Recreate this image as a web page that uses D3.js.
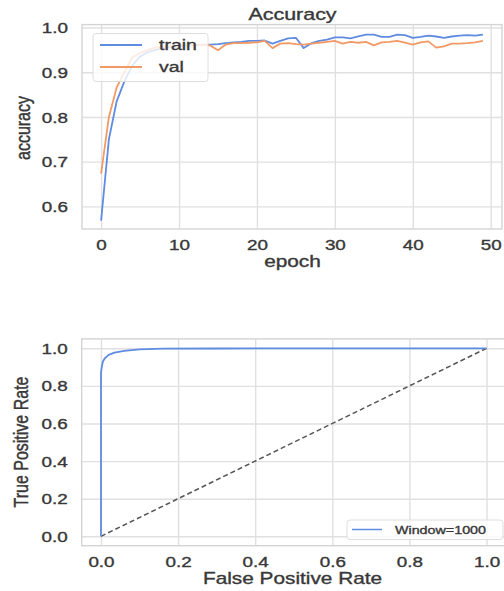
<!DOCTYPE html>
<html>
<head>
<meta charset="utf-8">
<script src="https://cdn.jsdelivr.net/npm/d3@7"></script>
<style>
  html, body { margin: 0; padding: 0; background: #fff; }
  svg { display: block; }
  text { font-family: "Liberation Sans", Arial, sans-serif; fill: #383838; stroke: #383838; stroke-width: 0.35px; }
</style>
</head>
<body>
<svg id="chart" width="504" height="591"></svg>
<script>
// ---------- data ----------
const epochs = d3.range(0, 50);
const trainAcc = [0.568, 0.75, 0.835, 0.88, 0.915, 0.935, 0.945, 0.950, 0.954, 0.956,
                  0.958, 0.960, 0.961, 0.962, 0.962, 0.963, 0.965, 0.967, 0.968, 0.970,
                  0.970, 0.971, 0.964, 0.970, 0.976, 0.977, 0.954, 0.965, 0.970, 0.973,
                  0.978, 0.978, 0.976, 0.980, 0.984, 0.984, 0.979, 0.979, 0.984, 0.983,
                  0.977, 0.979, 0.982, 0.980, 0.977, 0.980, 0.982, 0.983, 0.982, 0.984];
const valAcc = [0.673, 0.80, 0.866, 0.90, 0.933, 0.943, 0.950, 0.955, 0.957, 0.958,
                0.960, 0.960, 0.961, 0.961, 0.960, 0.949, 0.962, 0.965, 0.965, 0.966,
                0.967, 0.970, 0.954, 0.964, 0.965, 0.963, 0.962, 0.964, 0.966, 0.968,
                0.970, 0.964, 0.968, 0.966, 0.968, 0.960, 0.967, 0.968, 0.970, 0.966,
                0.962, 0.967, 0.969, 0.955, 0.958, 0.964, 0.964, 0.965, 0.967, 0.970];
const accYTicks = [0.6, 0.7, 0.8, 0.9, 1.0];
const accXTicks = [0, 10, 20, 30, 40, 50];
const accSeriesNames = ["train", "val"];

const rocFpr = [0, 0, 0.002, 0.005, 0.01, 0.02, 0.035, 0.06, 0.1, 0.16, 0.3, 0.6, 1.0];
const rocTpr = [0, 0.87, 0.90, 0.93, 0.947, 0.965, 0.977, 0.986, 0.994, 0.998, 0.999, 1.0, 1.0];
const rocTicks = [0.0, 0.2, 0.4, 0.6, 0.8, 1.0];
const rocLegend = "Window=1000";

// ---------- style ----------
const SX = 1.3;               // horizontal text stretch seen in the reference
const blue = "#5f8ce0";
const orange = "#f29a66";
const gridColor = "#e0e0e0";
const frameColor = "#d4d4d4";

const svg = d3.select("#chart");

function stretchedText(g, x, y, str, size, anchor, rotate) {
  return g.append("text")
    .attr("transform", `translate(${x},${y}) scale(${SX},1)` + (rotate ? ` rotate(${rotate})` : ""))
    .attr("text-anchor", anchor || "middle")
    .style("font-size", size + "px")
    .text(str);
}

function drawAxes(g, x, y, xTicks, yTicks, fmtX, fmtY) {
  const [x0, x1] = x.range();
  const [y0, y1] = y.range();
  const gx = g.append("g").attr("transform", `translate(0,${y0})`)
    .call(d3.axisBottom(x).tickValues(xTicks).tickSize(-(y0 - y1)).tickFormat(fmtX));
  gx.select(".domain").remove();
  gx.selectAll(".tick line").attr("stroke", gridColor).attr("stroke-width", 1.4);
  gx.selectAll(".tick text")
    .attr("x", 0).attr("y", 0).attr("dy", 0)
    .attr("transform", `translate(0,21) scale(${SX},1)`)
    .attr("fill", null)
    .style("font-size", "14.5px");

  const gy = g.append("g").attr("transform", `translate(${x0},0)`)
    .call(d3.axisLeft(y).tickValues(yTicks).tickSize(-(x1 - x0)).tickFormat(fmtY));
  gy.select(".domain").remove();
  gy.selectAll(".tick line").attr("stroke", gridColor).attr("stroke-width", 1.4);
  gy.selectAll(".tick text")
    .attr("x", 0).attr("dy", "0.35em")
    .attr("transform", `translate(-14,0) scale(${SX},1)`)
    .attr("text-anchor", "end")
    .attr("fill", null)
    .style("font-size", "14.5px");

  g.append("rect")
    .attr("x", x0).attr("y", y1).attr("width", x1 - x0).attr("height", y0 - y1)
    .attr("fill", "none").attr("stroke", frameColor).attr("stroke-width", 1.4);
}

// ---------- plot 1: accuracy ----------
{
  const g = svg.append("g");
  const x = d3.scaleLinear().domain([-2.45, 51.45]).range([82, 502]);
  const y = d3.scaleLinear().domain([0.5493, 1.0066]).range([229, 24.6]);
  drawAxes(g, x, y, accXTicks, accYTicks, d3.format("d"), d3.format(".1f"));

  const clipId = "clip1";
  g.append("clipPath").attr("id", clipId).append("rect")
    .attr("x", 82).attr("y", 24.6).attr("width", 420).attr("height", 229 - 24.6);

  const line = d3.line().x((d, i) => x(epochs[i])).y(d => y(d));
  const series = [trainAcc, valAcc];
  const colors = [blue, orange];
  series.forEach((s, k) => {
    g.append("path").datum(s)
      .attr("clip-path", `url(#${clipId})`)
      .attr("d", line).attr("fill", "none")
      .attr("stroke", colors[k]).attr("stroke-width", 1.8)
      .attr("stroke-linejoin", "round");
  });

  const lg = g.append("g");
  lg.append("rect").attr("x", 93).attr("y", 33.5).attr("width", 115).attr("height", 48)
    .attr("rx", 3).attr("fill", "#fff").attr("fill-opacity", 0.8)
    .attr("stroke", "#dedede").attr("stroke-width", 1);
  accSeriesNames.forEach((name, k) => {
    const yy = 45 + k * 22;
    lg.append("line").attr("x1", 100).attr("x2", 142).attr("y1", yy).attr("y2", yy)
      .attr("stroke", colors[k]).attr("stroke-width", 1.8);
    stretchedText(lg, 159, yy + 5.3, name, 15, "start");
  });

  stretchedText(g, 292.5, 19.5, "Accuracy", 16.5, "middle");
  stretchedText(g, 292.5, 267, "epoch", 16, "middle");
  stretchedText(g, 30, 128, "accuracy", 16, "middle", -90);
}

// ---------- plot 2: ROC ----------
{
  const g = svg.append("g");
  const x = d3.scaleLinear().domain([-0.05, 1.05]).range([81.7, 505.8]);
  const y = d3.scaleLinear().domain([-0.05, 1.05]).range([545.7, 338.9]);
  drawAxes(g, x, y, rocTicks, rocTicks, d3.format(".1f"), d3.format(".1f"));

  g.append("line")
    .attr("x1", x(0)).attr("y1", y(0)).attr("x2", x(1)).attr("y2", y(1))
    .attr("stroke", "#555").attr("stroke-width", 1.5).attr("stroke-dasharray", "5,3");

  const pts = rocFpr.map((f, i) => [f, rocTpr[i]]);
  g.append("path").datum(pts)
    .attr("d", d3.line().x(d => x(d[0])).y(d => y(d[1])))
    .attr("fill", "none").attr("stroke", blue).attr("stroke-width", 1.8)
    .attr("stroke-linejoin", "round");

  const lg = g.append("g");
  lg.append("rect").attr("x", 347).attr("y", 520).attr("width", 156).attr("height", 19.5)
    .attr("rx", 3).attr("fill", "#fff").attr("fill-opacity", 0.8)
    .attr("stroke", "#dedede").attr("stroke-width", 1);
  lg.append("line").attr("x1", 352).attr("x2", 382).attr("y1", 529.5).attr("y2", 529.5)
    .attr("stroke", blue).attr("stroke-width", 1.5);
  stretchedText(lg, 395, 533.5, rocLegend, 11, "start");

  stretchedText(g, 292.5, 584, "False Positive Rate", 16, "middle");
  stretchedText(g, 28, 442, "True Positive Rate", 16, "middle", -90);
}
</script>
</body>
</html>
